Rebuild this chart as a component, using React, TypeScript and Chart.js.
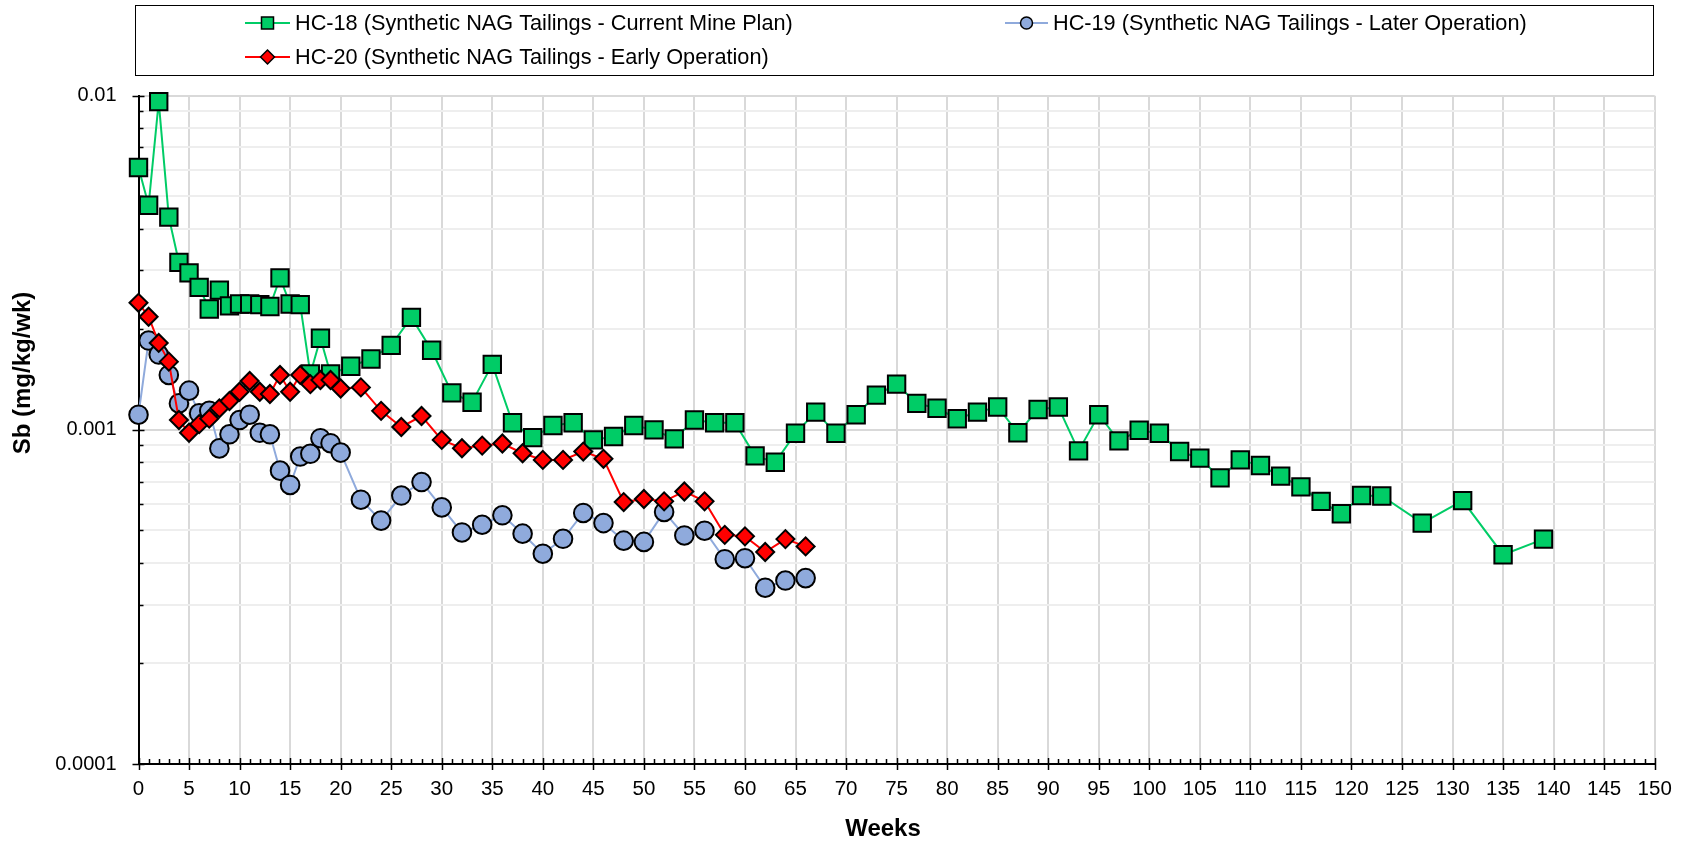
import React, { useEffect, useRef } from 'react';
import { Chart, registerables } from 'chart.js';

Chart.register(...registerables);

const FONT = "'Liberation Sans', Arial, Helvetica, sans-serif";

// ---------------- data ----------------
const hc18Weeks = [
  0, 1, 2, 3, 4, 5, 6, 7, 8, 9, 10, 11, 12, 13, 14, 15, 16, 17, 18, 19,
  21, 23, 25, 27, 29, 31, 33, 35, 37, 39, 41, 43, 45, 47, 49, 51, 53, 55, 57, 59,
  61, 63, 65, 67, 69, 71, 73, 75, 77, 79, 81, 83, 85, 87, 89, 91, 93, 95, 97, 99,
  101, 103, 105, 107, 109, 111, 113, 115, 117, 119, 121, 123, 127, 131, 135, 139,
];
const hc18Values = [
  0.0061, 0.0047, 0.0096, 0.00433, 0.00317, 0.00295, 0.00267, 0.0023, 0.00262, 0.00235,
  0.00238, 0.00238, 0.00237, 0.00234, 0.00285, 0.00238, 0.00237, 0.00147, 0.00188, 0.00147,
  0.00155, 0.00163, 0.00179, 0.00217, 0.00173, 0.00129, 0.00121, 0.00157, 0.00105, 0.000948,
  0.00103, 0.00105, 0.000933, 0.000955, 0.00103, 0.001, 0.00094, 0.00107, 0.00105, 0.00105,
  0.000836, 0.0008, 0.000977, 0.00113, 0.000977, 0.00111, 0.00127, 0.00137, 0.0012, 0.00116,
  0.00108, 0.00113, 0.00117, 0.00098, 0.00115, 0.00117, 0.000865, 0.00111, 0.000927, 0.000997,
  0.000977, 0.000861, 0.000823, 0.000718, 0.000813, 0.000782, 0.000727, 0.000675, 0.000611, 0.000561,
  0.000636, 0.000634, 0.000526, 0.000614, 0.000423, 0.000471,
];

const hc19Weeks = [
  0, 1, 2, 3, 4, 5, 6, 7, 8, 9, 10, 11, 12, 13, 14, 15, 16, 17, 18, 19, 20,
  22, 24, 26, 28, 30, 32, 34, 36, 38, 40, 42, 44, 46, 48, 50, 52, 54, 56, 58, 60, 62, 64, 66,
];
const hc19Values = [
  0.00111, 0.00185, 0.00168, 0.00146, 0.0012, 0.00131, 0.00112, 0.00114, 0.00088, 0.00097,
  0.00107, 0.00111, 0.00098, 0.00097, 0.000755, 0.000684, 0.000832, 0.000848, 0.000944, 0.000912,
  0.000855, 0.000618, 0.000535, 0.000636, 0.000698, 0.000586, 0.000493, 0.00052, 0.000555, 0.000489,
  0.000426, 0.000472, 0.000564, 0.000526, 0.000466, 0.000462, 0.000568, 0.000483, 0.000499, 0.00041,
  0.000413, 0.000337, 0.000354, 0.00036,
];

const hc20Weeks = [
  0, 1, 2, 3, 4, 5, 6, 7, 8, 9, 10, 11, 12, 13, 14, 15, 16, 17, 18, 19, 20,
  22, 24, 26, 28, 30, 32, 34, 36, 38, 40, 42, 44, 46, 48, 50, 52, 54, 56, 58, 60, 62, 64, 66,
];
const hc20Values = [
  0.0024, 0.00218, 0.00182, 0.0016, 0.00107, 0.00098, 0.00104, 0.00108, 0.00116, 0.00122,
  0.0013, 0.0014, 0.0013, 0.00128, 0.00146, 0.0013, 0.00146, 0.00137, 0.00141, 0.00141,
  0.00133, 0.00134, 0.00114, 0.00102, 0.0011, 0.000933, 0.000881, 0.000897, 0.00091, 0.000851,
  0.000813, 0.000813, 0.000861, 0.000819, 0.000608, 0.000621, 0.000611, 0.000654, 0.000611, 0.000485,
  0.00048, 0.000431, 0.000471, 0.000448,
];

const seriesLabels = [
  'HC-18 (Synthetic NAG Tailings - Current Mine Plan)',
  'HC-19 (Synthetic NAG Tailings - Later Operation)',
  'HC-20 (Synthetic NAG Tailings - Early Operation)',
];

const xMin = 0;
const xMax = 150;
const xStep = 5;
const yMin = 0.0001;
const yMax = 0.01;
const yGridValues = [
  0.0001, 0.0002, 0.0003, 0.0004, 0.0005, 0.0006, 0.0007, 0.0008, 0.0009,
  0.001, 0.002, 0.003, 0.004, 0.005, 0.006, 0.007, 0.008, 0.009, 0.01,
];
const yLabelValues = [0.0001, 0.001, 0.01];
const yLabelTexts = ['0.0001', '0.001', '0.01'];
const xTitle = 'Weeks';
const yTitle = 'Sb (mg/kg/wk)';

// ---------------- styling ----------------
const GREEN = '#00CC66';
const BLUE = '#8FAADC';
const RED = '#FF0000';

const isDecade = (v: number) => Math.abs(Math.log10(v) - Math.round(Math.log10(v))) < 1e-9;

function drawMarker(ctx: CanvasRenderingContext2D, shape: string, x: number, y: number, s: number, fill: string) {
  ctx.save();
  ctx.fillStyle = fill;
  ctx.strokeStyle = '#000';
  ctx.lineWidth = 1.5;
  ctx.beginPath();
  if (shape === 'rect') ctx.rect(x - s, y - s, 2 * s, 2 * s);
  else if (shape === 'circle') ctx.arc(x, y, s, 0, Math.PI * 2);
  else {
    ctx.moveTo(x, y - s);
    ctx.lineTo(x + s, y);
    ctx.lineTo(x, y + s);
    ctx.lineTo(x - s, y);
    ctx.closePath();
  }
  ctx.fill();
  ctx.stroke();
  ctx.restore();
}

const tickMarksPlugin = {
  id: 'tickMarks',
  beforeDatasetsDraw(chart: any) {
    const ctx = chart.ctx as CanvasRenderingContext2D;
    const xs = chart.scales.x;
    const ys = chart.scales.y;
    const { left, bottom } = chart.chartArea;
    ctx.save();
    ctx.strokeStyle = '#000';
    ctx.lineWidth = 1.5;
    ctx.beginPath();
    for (const v of yGridValues) {
      const py = Math.round(ys.getPixelForValue(v)) + 0.5;
      if (isDecade(v)) {
        ctx.moveTo(left - 6, py);
        ctx.lineTo(left + 6, py);
      } else {
        ctx.moveTo(left, py);
        ctx.lineTo(left + 5, py);
      }
    }
    for (let w = xMin; w <= xMax; w++) {
      const px = Math.round(xs.getPixelForValue(w)) + 0.5;
      if (w % xStep === 0) {
        ctx.moveTo(px, bottom - 6);
        ctx.lineTo(px, bottom + 6);
      } else {
        ctx.moveTo(px, bottom - 5);
        ctx.lineTo(px, bottom);
      }
    }
    ctx.stroke();
    ctx.restore();
  },
};

const legendAndTitlesPlugin = {
  id: 'legendAndTitles',
  afterDraw(chart: any) {
    const ctx = chart.ctx as CanvasRenderingContext2D;
    ctx.save();
    // legend box
    ctx.strokeStyle = '#000';
    ctx.lineWidth = 1;
    ctx.strokeRect(135.5, 5.5, 1518, 70);
    const items = [
      { ds: 0, shape: 'rect', size: 6, x0: 245, x1: 290, y: 23 },
      { ds: 1, shape: 'circle', size: 6, x0: 1005, x1: 1048, y: 23 },
      { ds: 2, shape: 'diamond', size: 7, x0: 245, x1: 290, y: 57 },
    ];
    ctx.font = `21.7px ${FONT}`;
    ctx.textBaseline = 'middle';
    ctx.textAlign = 'left';
    for (const it of items) {
      const ds = chart.data.datasets[it.ds];
      ctx.strokeStyle = ds.borderColor;
      ctx.lineWidth = 2;
      ctx.beginPath();
      ctx.moveTo(it.x0, it.y);
      ctx.lineTo(it.x1, it.y);
      ctx.stroke();
      drawMarker(ctx, it.shape, (it.x0 + it.x1) / 2, it.y, it.size, ds.pointBackgroundColor);
      ctx.fillStyle = '#000';
      ctx.fillText(ds.label, it.x1 + 5, it.y + 1);
    }
    // axis titles
    ctx.fillStyle = '#000';
    ctx.font = `bold 24px ${FONT}`;
    ctx.textAlign = 'center';
    ctx.textBaseline = 'middle';
    ctx.fillText(xTitle, 883, 829);
    ctx.translate(23, 373);
    ctx.rotate(-Math.PI / 2);
    ctx.fillText(yTitle, 0, 0);
    ctx.restore();
  },
};

const toPoints = (xs: number[], ys: number[]) => xs.map((x, i) => ({ x, y: ys[i] }));

export default function App() {
  const canvasRef = useRef<HTMLCanvasElement | null>(null);

  useEffect(() => {
    if (!canvasRef.current) return;
    const chart = new Chart(canvasRef.current, {
      type: 'scatter',
      data: {
        datasets: [
          {
            label: seriesLabels[0],
            data: toPoints(hc18Weeks, hc18Values),
            showLine: true,
            borderColor: GREEN,
            borderWidth: 2,
            pointStyle: 'rect',
            pointRadius: 12.3,
            pointBackgroundColor: GREEN,
            pointBorderColor: '#000',
            pointBorderWidth: 2,
            clip: false,
            order: 3,
          },
          {
            label: seriesLabels[1],
            data: toPoints(hc19Weeks, hc19Values),
            showLine: true,
            borderColor: BLUE,
            borderWidth: 2,
            pointStyle: 'circle',
            pointRadius: 9.3,
            pointBackgroundColor: BLUE,
            pointBorderColor: '#000',
            pointBorderWidth: 2,
            clip: false,
            order: 2,
          },
          {
            label: seriesLabels[2],
            data: toPoints(hc20Weeks, hc20Values),
            showLine: true,
            borderColor: RED,
            borderWidth: 2,
            pointStyle: 'rectRot',
            pointRadius: 9,
            pointBackgroundColor: RED,
            pointBorderColor: '#000',
            pointBorderWidth: 2,
            clip: false,
            order: 1,
          },
        ] as any,
      },
      options: {
        responsive: false,
        animation: false,
        devicePixelRatio: 1,
        events: [],
        layout: { padding: { top: 95.7, right: 30.3, bottom: 0, left: 0 } },
        plugins: {
          legend: { display: false },
          tooltip: { enabled: false },
          title: { display: false },
        },
        scales: {
          x: {
            type: 'linear',
            min: xMin,
            max: xMax,
            afterFit: (s: any) => { s.height = 80; },
            ticks: {
              stepSize: xStep,
              autoSkip: false,
              maxRotation: 0,
              color: '#000',
              padding: 13,
              font: { family: FONT, size: 20.5 },
            },
            grid: { color: '#d9d9d9', lineWidth: 2, drawTicks: false },
            border: { display: true, color: '#000', width: 2 },
          },
          y: {
            type: 'logarithmic',
            min: yMin,
            max: yMax,
            afterFit: (s: any) => { s.width = 138.5; },
            afterBuildTicks: (s: any) => {
              s.ticks = yGridValues.map((v) => ({ value: v, major: isDecade(v) }));
            },
            ticks: {
              autoSkip: false,
              color: '#000',
              padding: 22,
              font: { family: FONT, size: 20 },
              callback: (value: any) => {
                const i = yLabelValues.findIndex((v) => Math.abs(v - Number(value)) < v * 1e-6);
                return i >= 0 ? yLabelTexts[i] : '';
              },
            },
            grid: {
              color: (c: any) => (c.tick && isDecade(c.tick.value) ? '#d9d9d9' : '#eeeeee'),
              lineWidth: 2,
              drawTicks: false,
            },
            border: { display: true, color: '#000', width: 2 },
          },
        },
      } as any,
      plugins: [tickMarksPlugin, legendAndTitlesPlugin],
    });
    return () => chart.destroy();
  }, []);

  return (
    <div style={{ position: 'fixed', left: 0, top: 0, width: 1685, height: 844, background: '#fff' }}>
      <canvas ref={canvasRef} width={1685} height={844} style={{ display: 'block', width: 1685, height: 844 }} />
    </div>
  );
}
